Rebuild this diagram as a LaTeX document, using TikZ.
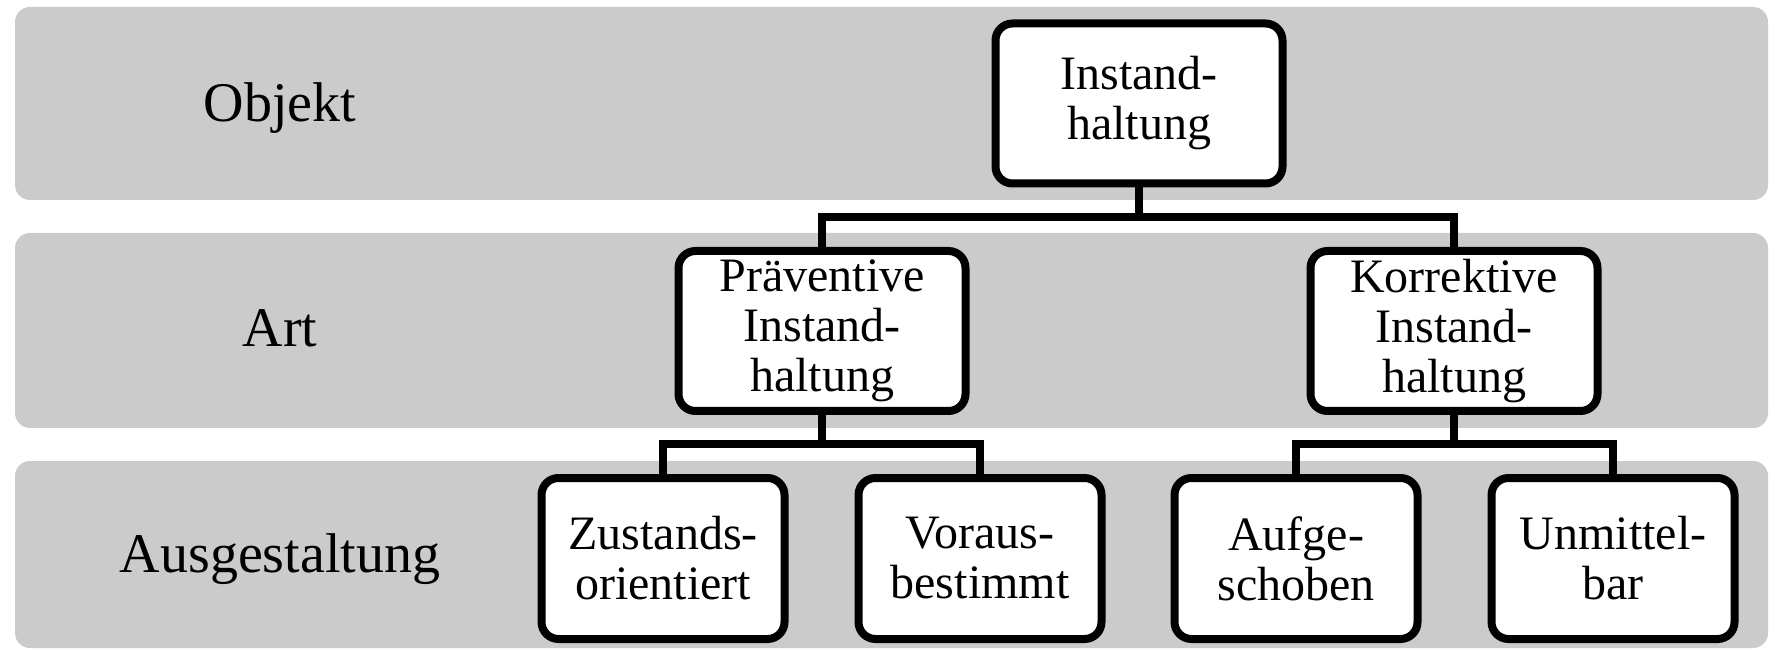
\documentclass[tikz,border=0pt]{standalone}
\usepackage{fontspec}
\setmainfont{Liberation Serif}
\usetikzlibrary{calc}
\definecolor{bandgray}{RGB}{203,203,203}
\tikzset{
	band/.style={fill=bandgray, rounded corners=7.5pt},
	boxbig/.style={draw, fill=white, line width=4pt, rounded corners=8.5pt, minimum width=143.5pt, minimum height=80pt, inner sep=0pt, align=center, font=\fontsize{24}{25}\selectfont},
	boxsmall/.style={boxbig, minimum width=121.5pt, minimum height=80.5pt},
	levellabel/.style={anchor=base, font=\fontsize{28}{30}\selectfont},
	conn/.style={line width=4pt}
}
\begin{document}
\begin{tikzpicture}[x=0.5pt, y=-0.5pt]
				  \useasboundingbox (0,0) rectangle (1775,651);
				  \fill[band] (15,7) rectangle (1768,200);
				  \fill[band] (15,233) rectangle (1768,428);
				  \fill[band] (15,461) rectangle (1768,648);
				  \node[levellabel] (objekt) at (280,122) {Objekt};
				  \node[levellabel] (art) at (280,347) {Art};
				  \node[levellabel] (ausg) at (280,572) {Ausgestaltung};
				  \node[boxbig] (top) at (1139,103.5) {Instand-\\haltung};
				  \node[boxbig] (prae) at (822,331) {Präventive\\Instand-\\haltung};
				  \node[boxbig] (korr) at (1454,331) {Korrektive\\Instand-\\haltung};
				  \node[boxsmall] (zust) at (663,558.5) {Zustands-\\orientiert};
				  \node[boxsmall] (vor) at (980,558.5) {Voraus-\\bestimmt};
				  \node[boxsmall] (aufg) at (1296,558.5) {Aufge-\\schoben};
				  \node[boxsmall] (unm) at (1613,558.5) {Unmittel-\\bar};
				  \coordinate (j1) at ($(top.south)!.5!(top.south |- prae.north)$);
				  \coordinate (j2) at ($(prae.south)!.5!(prae.south |- zust.north)$);
				  \coordinate (j3) at ($(korr.south)!.5!(korr.south |- aufg.north)$);
				  \draw[conn] (top.south) -- (j1);
				  \draw[conn] (prae.north) |- (j1) -| (korr.north);
				  \draw[conn] (prae.south) -- (j2);
				  \draw[conn] (zust.north) |- (j2) -| (vor.north);
				  \draw[conn] (korr.south) -- (j3);
				  \draw[conn] (aufg.north) |- (j3) -| (unm.north);
\end{tikzpicture}
\end{document}
